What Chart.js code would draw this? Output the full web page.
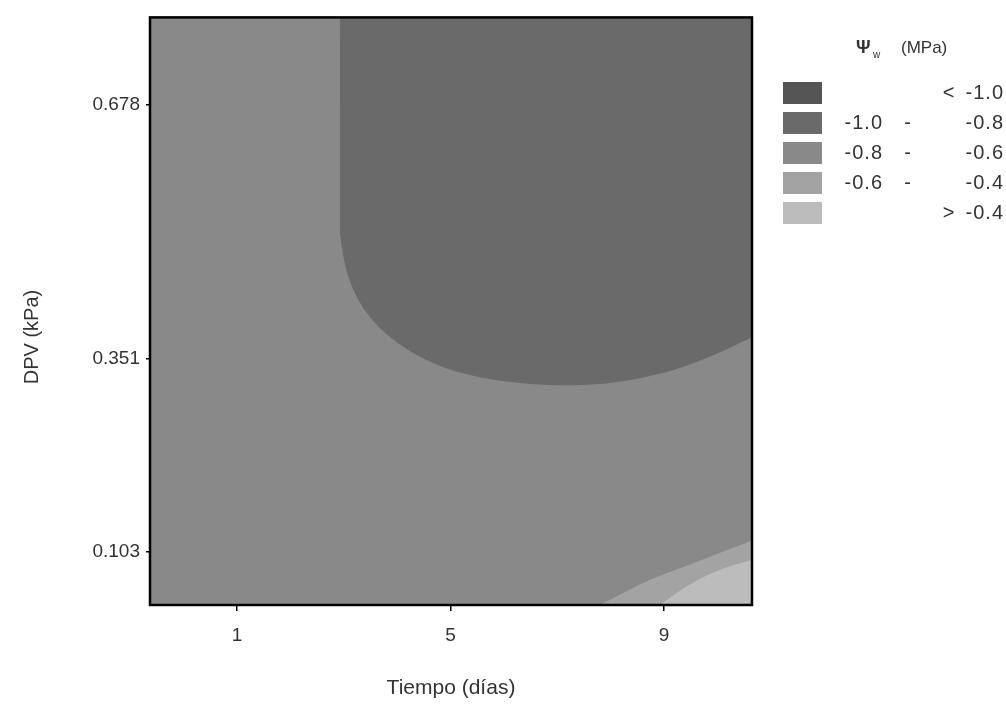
<!DOCTYPE html>
<html>
<head>
<meta charset="utf-8">
<script src="https://cdn.jsdelivr.net/npm/chart.js@4"></script>
<style>
  html, body { margin: 0; padding: 0; background: #fff; }
</style>
</head>
<body>
<canvas id="contourChart" width="1006" height="706"></canvas>
<script>
// axis ticks and ranges
const dayTicks = [1, 5, 9];
const dpvTicks = [0.103, 0.351, 0.678];
const dayRange = [-0.63, 10.65];
const dpvRange = [0.035, 0.79];

// contour edges (x = day, y = DPV)
const darkEdgeX = [2.93, 2.85, 2.89, 3.02, 3.30, 3.77, 4.43, 5.27, 6.49, 7.80, 8.92, 9.86, 10.65];
const darkEdgeY = [0.79, 0.678, 0.551, 0.474, 0.424, 0.385, 0.354, 0.332, 0.319, 0.319, 0.332, 0.354, 0.379];
const ringEdgeX = [7.80, 8.73, 9.67, 10.65];
const ringEdgeY = [0.035, 0.067, 0.092, 0.118];
const lightEdgeX = [8.92, 9.48, 10.04, 10.65];
const lightEdgeY = [0.035, 0.061, 0.080, 0.093];

// legend classes for Psi_w (MPa)
const levelFrom = ['', '-1.0', '-0.8', '-0.6', ''];
const levelSign = ['<', '-', '-', '-', '>'];
const levelTo = ['-1.0', '-0.8', '-0.6', '-0.4', '-0.4'];
const levelColors = ['#555555', '#6a6a6a', '#898989', '#a3a3a3', '#bcbcbc'];

const toPoints = (xs, ys) => xs.map((x, i) => ({ x: x, y: ys[i] }));

const font = 'Liberation Sans, Arial, sans-serif';

// frame round the plot and the y title (sits a bit below centre)
const frame = {
  id: 'frame',
  afterDatasetsDraw(chart) {
    const a = chart.chartArea;
    const ctx = chart.ctx;
    ctx.save();
    ctx.strokeStyle = '#000';
    ctx.lineWidth = 2.5;
    ctx.strokeRect(a.left, a.top, a.right - a.left, a.bottom - a.top);
    ctx.translate(32, 337);
    ctx.rotate(-Math.PI / 2);
    ctx.fillStyle = '#333';
    ctx.font = '20px ' + font;
    ctx.textAlign = 'center';
    ctx.textBaseline = 'middle';
    ctx.fillText('DPV (kPa)', 0, 0);
    ctx.restore();
  }
};

// legend drawn at the right
const contourLegend = {
  id: 'contourLegend',
  afterDraw(chart) {
    const ctx = chart.ctx;
    ctx.save();
    ctx.fillStyle = '#333';
    ctx.textBaseline = 'middle';
    ctx.font = 'bold 18px ' + font;
    ctx.textAlign = 'left';
    ctx.fillText('\u03A8', 856, 48);
    ctx.font = '10px ' + font;
    ctx.fillText('w', 873, 55);
    ctx.font = '17px ' + font;
    ctx.fillText('(MPa)', 901, 48);

    ctx.font = '20px ' + font;
    ctx.letterSpacing = '1px';
    levelTo.forEach((to, i) => {
      const y = 93 + i * 30;
      ctx.fillStyle = levelColors[i];
      ctx.fillRect(783, y - 11, 39, 22);
      ctx.fillStyle = '#333';
      ctx.textAlign = 'right';
      if (levelFrom[i]) ctx.fillText(levelFrom[i], 883, y);
      ctx.textAlign = 'center';
      ctx.fillText(levelSign[i], levelSign[i] === '-' ? 908 : 949, y);
      ctx.textAlign = 'right';
      ctx.fillText(to, 1004, y);
    });
    ctx.restore();
  }
};

const layer = (points, color, fill, order) => ({
  data: points,
  backgroundColor: color,
  borderWidth: 0,
  pointRadius: 0,
  tension: 0.35,
  fill: fill,
  order: order
});

new Chart(document.getElementById('contourChart'), {
  type: 'line',
  data: {
    datasets: [
      layer(toPoints(darkEdgeX, darkEdgeY), levelColors[1], 'end', 1),
      layer(toPoints(lightEdgeX, lightEdgeY), levelColors[4], 'start', 2),
      layer(toPoints(ringEdgeX, ringEdgeY), levelColors[3], 'start', 3),
      layer(toPoints(dayRange, [dpvRange[1], dpvRange[1]]), levelColors[2], 'start', 4)
    ]
  },
  options: {
    responsive: false,
    animation: false,
    devicePixelRatio: 1,
    layout: { padding: { left: 0, right: 254, top: 12, bottom: 0 } },
    plugins: { legend: { display: false }, tooltip: { enabled: false } },
    scales: {
      x: {
        type: 'linear',
        min: dayRange[0],
        max: dayRange[1],
        afterBuildTicks: s => { s.ticks = dayTicks.map(v => ({ value: v })); },
        afterFit: s => { s.height = 101; },
        grid: { drawOnChartArea: false, drawTicks: true, tickLength: 6, color: '#000', lineWidth: 1.5 },
        border: { display: false },
        ticks: { color: '#333', padding: 13, font: { family: font, size: 19 }, callback: v => String(v) },
        title: { display: true, text: 'Tiempo (días)', color: '#333', padding: { top: 0, bottom: 5 }, font: { family: font, size: 21 } }
      },
      y: {
        type: 'linear',
        min: dpvRange[0],
        max: dpvRange[1],
        afterBuildTicks: s => { s.ticks = dpvTicks.map(v => ({ value: v })); },
        afterFit: s => { s.width = 150; },
        grid: { drawOnChartArea: false, drawTicks: true, tickLength: 4, color: '#000', lineWidth: 1.5 },
        border: { display: false },
        ticks: { color: '#333', padding: 6, font: { family: font, size: 19 }, callback: v => String(v) },
        title: { display: false }
      }
    }
  },
  plugins: [frame, contourLegend]
});
</script>
</body>
</html>
